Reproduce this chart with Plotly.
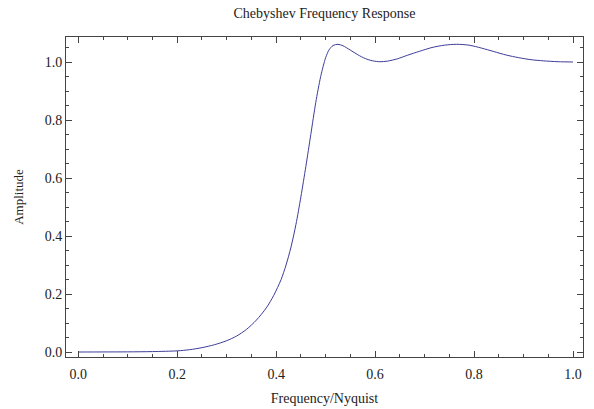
import plotly.graph_objects as go

# Hand-read points from the reference curve
freq = [0.0, 0.05, 0.10, 0.15, 0.20, 0.225, 0.25, 0.275, 0.30, 0.32, 0.34, 0.36,
        0.38, 0.395, 0.41, 0.42, 0.43, 0.44, 0.45, 0.46, 0.47, 0.48, 0.49,
        0.50, 0.507, 0.515, 0.525, 0.535, 0.55, 0.565, 0.58, 0.595, 0.61,
        0.625, 0.645, 0.665, 0.69, 0.715, 0.74, 0.765, 0.79, 0.815, 0.84,
        0.865, 0.89, 0.915, 0.94, 0.97, 1.0]
amp = [0.0, 0.0002, 0.0005, 0.0015, 0.004, 0.008, 0.015, 0.025, 0.039, 0.055, 0.078, 0.110,
       0.152, 0.195, 0.250, 0.300, 0.362, 0.440, 0.535, 0.640, 0.750, 0.860, 0.950,
       1.015, 1.042, 1.057, 1.061, 1.056, 1.041, 1.025, 1.012, 1.004, 1.001,
       1.003, 1.011, 1.023, 1.037, 1.050, 1.058, 1.061, 1.058, 1.048, 1.036,
       1.024, 1.015, 1.008, 1.004, 1.001, 1.0]

x_ticks = [0.0, 0.2, 0.4, 0.6, 0.8, 1.0]
y_ticks = [0.0, 0.2, 0.4, 0.6, 0.8, 1.0]

font_family = "Liberation Serif"
frame_color = "#444444"
text_color = "#222222"

fig = go.Figure()
fig.add_trace(go.Scatter(
    x=freq, y=amp, mode="lines",
    line=dict(color="#3d3d99", width=1, shape="spline", smoothing=0.8),
    hoverinfo="skip", showlegend=False,
))

axis_common = dict(
    showgrid=False, zeroline=False, automargin=False,
    showline=True, linecolor=frame_color, linewidth=1, mirror="ticks",
    ticks="inside", ticklen=6, tickwidth=1, tickcolor=frame_color,
    tickfont=dict(family=font_family, size=14, color=text_color),
)

fig.update_xaxes(
    **axis_common,
    range=[-0.0248, 1.0202],
    tickvals=x_ticks, ticktext=[f"{v:.1f}" for v in x_ticks],
    ticklabelstandoff=4,
    minor=dict(ticks="inside", dtick=0.05, tick0=0, ticklen=3, tickcolor=frame_color, showgrid=False),
    title=dict(text="Frequency/Nyquist", font=dict(family=font_family, size=14, color=text_color), standoff=12),
)
fig.update_yaxes(
    **axis_common,
    range=[-0.0172, 1.0862],
    tickvals=y_ticks, ticktext=[f"{v:.1f}" for v in y_ticks],
    minor=dict(ticks="inside", dtick=0.05, tick0=0, ticklen=3, tickcolor=frame_color, showgrid=False),
    title=dict(text="Amplitude", font=dict(family=font_family, size=13, color=text_color), standoff=18),
)

fig.update_layout(
    width=594, height=409,
    margin=dict(l=66, r=11, t=37, b=52),
    paper_bgcolor="white", plot_bgcolor="white",
    title=dict(text="Chebyshev Frequency Response", x=0.5, xref="paper", y=1 - 13/409, yanchor="middle",
               font=dict(family=font_family, size=14, color=text_color)),
)

fig.write_html("out.html")
